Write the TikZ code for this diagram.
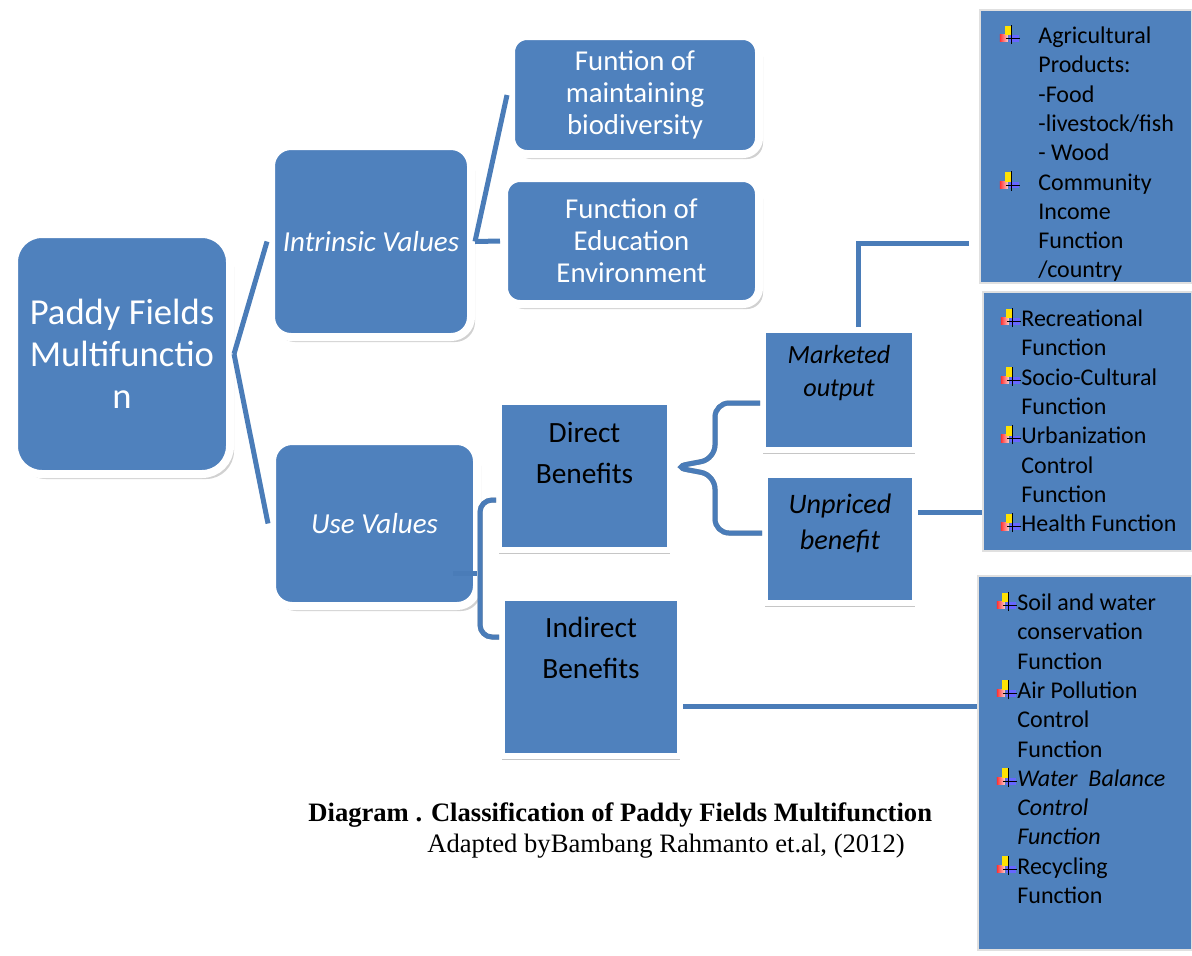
\documentclass[tikz,border=0pt]{standalone}
\usepackage{fontspec}
\setmainfont{Carlito}
\newfontfamily\captionfont{Liberation Serif}
\usetikzlibrary{positioning,calc,shadows}

\definecolor{boxblue}{HTML}{4F81BD}
\definecolor{lineblue}{HTML}{4A7CB8}

% small bullet icon of the lists
\newcommand{\plusicon}{\tikz[baseline=-0.5pt,x=1pt,y=1pt]{%
  \shade[left color=red!80,right color=red!20] (0,0.3) rectangle (4,4);
  \fill[yellow!85!orange] (2.5,3.6) rectangle (6,8.5);
  \fill[blue!60!white] (4.5,0.3) rectangle (9.5,3.6);
  \draw[black,line width=0.5pt] (5.8,-0.8) -- (5.8,8.8) (3,1.9) -- (10,1.9);}}

\begin{document}
\begin{tikzpicture}[x=0.5pt,y=-0.5pt,
    roundbox/.style={rectangle,rounded corners=10pt,fill=boxblue,draw=white,line width=4pt,
      text=white,align=center,inner sep=0pt,
      drop shadow={shadow xshift=2pt,shadow yshift=-2.5pt,opacity=.3,fill=black!60}},
    sqbox/.style={rectangle,fill=boxblue,draw=white,line width=3pt,inner sep=0pt,
      drop shadow={shadow xshift=0pt,shadow yshift=-2pt,opacity=.45,fill=gray}},
    sqtext/.style={text=black,align=center,inner sep=0pt},
    listbox/.style={rectangle,fill=boxblue,draw=black!12,line width=0.6pt,inner sep=0pt},
    listtext/.style={text=black,align=left,anchor=north west,inner sep=0pt,
      font=\fontsize{12}{14.65}\selectfont},
    conn/.style={draw=lineblue,line width=2.5pt},
    connsh/.style={draw=black!35,line width=2.5pt}]
  \useasboundingbox (0,0) rectangle (1192,955);

  % rounded boxes
  \node[roundbox,rounded corners=14pt,minimum width=108pt,minimum height=120pt,
    font=\fontsize{18.3}{21}\selectfont] (root) at (122,354) {Paddy Fields\\Multifunctio\\n};
  \node[roundbox,minimum width=100pt,minimum height=95.5pt,
    font=\fontsize{14.5}{16}\selectfont\itshape] (intr) at (371,241.5) {Intrinsic Values};
  \node[roundbox,minimum width=102.5pt,minimum height=82.5pt,
    font=\fontsize{14.5}{16}\selectfont\itshape] (use) at (374.5,523.5) {Use Values};
  \node[roundbox,rounded corners=8pt,minimum width=124pt,minimum height=59pt,
    font=\fontsize{14.4}{16}\selectfont] (bio) at (635,95) {Funtion of\\maintaining\\biodiversity};
  \node[roundbox,rounded corners=8pt,minimum width=127.5pt,minimum height=63pt,
    font=\fontsize{14.4}{16}\selectfont] (edu) at (631.5,241) {Function of\\Education\\Environment};

  % square boxes
  \node[sqbox,minimum width=85.5pt,minimum height=74pt] (direct) at (584.5,476) {};
  \node[sqtext,font=\fontsize{14.7}{20.5}\selectfont] (directtxt) at ($(direct)+(0,-23.5)$) {Direct\\Benefits};
  \node[sqbox,minimum width=89pt,minimum height=79pt] (indir) at (591,677) {};
  \node[sqtext,font=\fontsize{14.7}{20.5}\selectfont] (indirtxt) at ($(indir)+(0,-29)$) {Indirect\\Benefits};
  \node[sqbox,minimum width=76pt,minimum height=60pt] (mkt) at (839,390) {};
  \node[sqtext,font=\fontsize{13.1}{16.5}\selectfont\itshape] (mkttxt) at ($(mkt)+(0,-16.5)$) {Marketed\\output};
  \node[sqbox,minimum width=75pt,minimum height=64pt] (unp) at (840,539) {};
  \node[sqtext,font=\fontsize{14.1}{18}\selectfont\itshape] (unptxt) at ($(unp)+(0,-16)$) {Unpriced\\benefit};

  % lists on the right
  \node[listbox,minimum width=106pt,minimum height=136.5pt] (lst1) at (1086,146.5) {};
  \node[listtext] (lst1txt) at (1038,24) {\llap{\plusicon\hspace{9pt}}Agricultural\\
    Products:\\-Food\\-livestock/fish\\- Wood\\
    \llap{\plusicon\hspace{9pt}}Community\\Income\\Function\\/country};
  \node[listbox,minimum width=104.5pt,minimum height=129.5pt] (lst2) at (1087.5,421.5) {};
  \node[listtext] (lst2txt) at (1021,307) {\llap{\plusicon}Recreational\\Function\\
    \llap{\plusicon}Socio-Cultural\\Function\\
    \llap{\plusicon}Urbanization\\Control\\Function\\
    \llap{\plusicon}Health Function};
  \node[listbox,minimum width=107pt,minimum height=187pt] (lst3) at (1085,763) {};
  \node[listtext] (lst3txt) at (1017,591) {\llap{\plusicon}Soil and water\\conservation\\Function\\
    \llap{\plusicon}Air Pollution\\Control\\Function\\
    \llap{\plusicon}\textit{Water\ \ Balance}\\\textit{Control}\\\textit{Function}\\
    \llap{\plusicon}Recycling\\Function};

  % connectors
  \draw[conn] (root.east) -- (intr.west);
  \draw[conn] (root.east) -- (use.west);
  \draw[conn] (intr.east) -- (bio.west);
  \draw[conn] (intr.east) -- (edu.west);

  \draw[connsh,rounded corners=6pt,shift={(1,4)}] ($(direct.west)+(0,24)$) -| ($(use.east)+(-1,0)$) |- ($(indir.west)+(0,-40)$);
  \draw[conn,rounded corners=6pt] ($(direct.west)+(0,24)$) -| ($(use.east)+(-1,0)$) |- ($(indir.west)+(0,-40)$);
  \draw[conn] ($(use.east)+(-28,50)$) -- ++(24,0);

  \coordinate (bt) at ($(mkt.west)+(0,13)$);
  \coordinate (bb) at ($(unp.west)+(0,-6)$);
  \coordinate (bm) at ($(direct.east)+(0,-9)$);
  \draw[connsh,rounded corners=7pt,shift={(1,4)}] (bt) -| ($(bm)+(42,-8)$) -- (bm) -- ($(bm)+(42,8)$) |- (bb);
  \draw[conn,rounded corners=7pt] (bt) -| ($(bm)+(42,-8)$) -- (bm) -- ($(bm)+(42,8)$) |- (bb);

  \draw[conn] ($(mkt.north)+(19,0)$) |- ($(lst1.south west)+(-10,-40)$);
  \draw[conn] ($(unp.east)+(0,-27)$) coordinate (u1) -- (u1 -| lst2.west);
  \draw[conn] ($(indir.east)+(0,29)$) coordinate (i1) -- (i1 -| lst3.west);

  % caption
  \node[anchor=west,inner sep=0pt,font=\captionfont\fontsize{13.3}{15}\selectfont\bfseries] (caption) at (308,815)
    {Diagram . Classification of Paddy Fields Multifunction};
  \node[anchor=west,inner sep=0pt,font=\captionfont\fontsize{13.3}{15}\selectfont] (source) at (427,846)
    {Adapted byBambang Rahmanto et.al, (2012)};
\end{tikzpicture}
\end{document}
